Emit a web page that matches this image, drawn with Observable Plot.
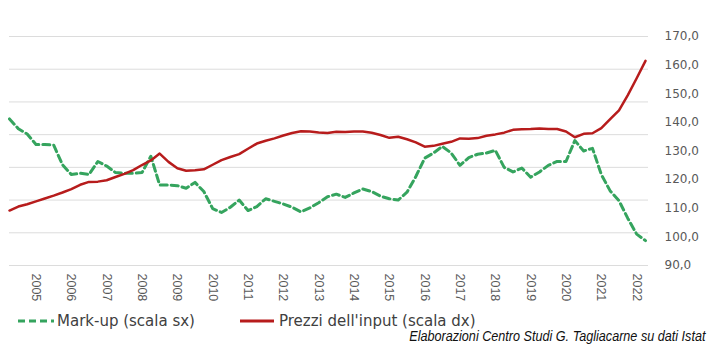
<!DOCTYPE html>
<html>
<head>
<meta charset="utf-8">
<script src="https://cdn.jsdelivr.net/npm/d3@7"></script>
<script src="https://cdn.jsdelivr.net/npm/@observablehq/plot@0.6"></script>
<style>
  html, body { margin: 0; padding: 0; background: #fff; }
  #wrap { position: relative; width: 723px; height: 353px; overflow: hidden; }
  #chart svg { display: block; }
  .leg { position: absolute; top: 311px; height: 20px; display: flex; align-items: center;
         font-family: "DejaVu Sans", sans-serif; font-size: 15px; color: #404040; white-space: nowrap; }
  .leg svg { margin-right: 3px; }
  #caption { position: absolute; top: 328px; right: 18px; font-family: "Liberation Sans", sans-serif;
             font-style: italic; font-size: 14.5px; color: #111; white-space: nowrap;
             transform: scaleX(0.87); transform-origin: right center; }
</style>
</head>
<body>
<div id="wrap">
  <div id="chart"></div>
  <div class="leg" style="left:18px">
    <svg width="36" height="10"><line x1="0" y1="5" x2="36" y2="5" stroke="#35a45e" stroke-width="3" stroke-dasharray="7,4"/></svg>
    <span>Mark-up (scala sx)</span>
  </div>
  <div class="leg" style="left:240px">
    <svg width="36" height="10"><line x1="0" y1="5" x2="34" y2="5" stroke="#b71c1c" stroke-width="3"/></svg>
    <span>Prezzi dell'input (scala dx)</span>
  </div>
  <div id="caption">Elaborazioni Centro Studi G. Tagliacarne su dati Istat</div>
</div>
<script>
// Quarterly data, 2005 Q1 .. 2023 Q1
const startYear = 2005;
const years = [2005, 2006, 2007, 2008, 2009, 2010, 2011, 2012, 2013, 2014, 2015, 2016, 2017, 2018, 2019, 2020, 2021, 2022];

// Mark-up (left scale, hidden labels)
const markup = [
  102.4, 100.9, 100.1, 98.5, 98.5, 98.4, 95.4, 93.9, 94.1, 93.9,
  95.9, 95.2, 94.2, 94.1, 94.1, 94.2, 96.7, 92.3, 92.3, 92.2,
  91.8, 92.7, 91.3, 88.7, 88.1, 88.9, 90.0, 88.4, 89.0, 90.2,
  89.8, 89.4, 88.9, 88.2, 88.8, 89.6, 90.5, 90.9, 90.4, 91.1,
  91.7, 91.3, 90.6, 90.2, 90.0, 91.2, 93.6, 96.4, 97.2, 98.2,
  97.2, 95.3, 96.5, 97.0, 97.2, 97.6, 95.0, 94.3, 94.9, 93.5,
  94.3, 95.3, 95.9, 95.9, 99.1, 97.5, 97.9, 93.9, 91.4, 89.9,
  87.2, 84.8, 83.8
];

// Prezzi dell'input (right scale)
const prezzi = [
  109.2, 110.6, 111.4, 112.4, 113.4, 114.4, 115.5, 116.7, 118.2, 119.2,
  119.3, 119.8, 120.9, 122.0, 123.3, 125.1, 126.7, 129.1, 126.2, 124.0,
  123.1, 123.3, 123.6, 125.2, 126.8, 127.9, 128.9, 130.8, 132.6, 133.6,
  134.4, 135.4, 136.3, 136.9, 136.8, 136.5, 136.3, 136.7, 136.6, 136.8,
  136.8, 136.4, 135.6, 134.6, 135.0, 134.1, 133.0, 131.5, 131.8, 132.5,
  133.2, 134.4, 134.3, 134.5, 135.3, 135.8, 136.4, 137.4, 137.6, 137.7,
  137.9, 137.7, 137.7, 136.8, 134.8, 136.0, 136.2, 138.0, 141.1, 144.2,
  149.5, 155.4, 161.5
];

// Axes
const rightTicks = [90, 100, 110, 120, 130, 140, 150, 160, 170];
const leftTicks = [80, 85, 90, 95, 100, 105, 110, 115];

const leftMin = leftTicks[0], leftMax = leftTicks[leftTicks.length - 1];
const rightMin = rightTicks[0], rightMax = rightTicks[rightTicks.length - 1];
const toRight = (v) => rightMin + (v - leftMin) / (leftMax - leftMin) * (rightMax - rightMin);

const dataMarkup = markup.map((v, i) => ({t: startYear + i / 4, v: toRight(v)}));
const dataPrezzi = prezzi.map((v, i) => ({t: startYear + i / 4, v}));
const yearTicks = years.map(y => y + 0.75);

const W = 723, H = 308;
const chart = Plot.plot({
  width: W,
  height: H,
  marginLeft: 9,
  marginRight: 75,
  marginTop: 36,
  marginBottom: 43,
  style: {fontFamily: "Liberation Sans, sans-serif", background: "transparent"},
  x: {domain: [startYear, startYear + (markup.length - 1) / 4], range: [9, 645]},
  y: {domain: [rightMin, rightMax]},
  marks: [
    Plot.ruleY(leftTicks.map(toRight), {stroke: "#dcdcdc", strokeWidth: 1}),
    Plot.axisY(rightTicks, {anchor: "right", tickSize: 0, tickPadding: 16, textAnchor: "start",
      tickFormat: d => d.toFixed(1).replace(".", ","), fontSize: 12, fill: "#595959",
      fontFamily: "DejaVu Sans, sans-serif", label: null}),
    Plot.axisX(yearTicks, {tickSize: 0, tickPadding: 8, tickRotate: 90, fontSize: 12.5,
      fill: "#595959", tickFormat: d => String(Math.floor(d)), label: null}),
    Plot.line(dataMarkup, {x: "t", y: "v", stroke: "#35a45e", strokeWidth: 3, strokeDasharray: "7,4", strokeLinejoin: "round"}),
    Plot.line(dataPrezzi, {x: "t", y: "v", stroke: "#b71c1c", strokeWidth: 2.5, strokeLinejoin: "round"})
  ]
});
document.getElementById("chart").appendChild(chart);
</script>
</body>
</html>
